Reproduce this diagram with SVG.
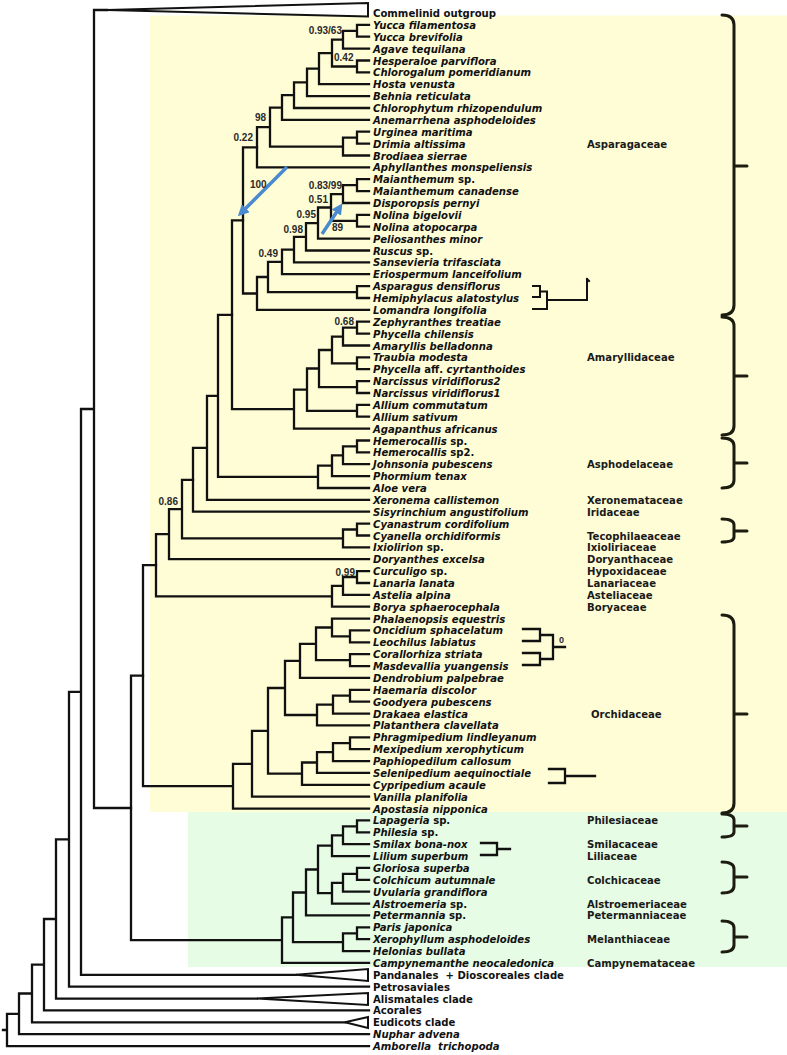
<svg xmlns="http://www.w3.org/2000/svg" width="787" height="1055" viewBox="0 0 787 1055">
<style>
.tx{font-family:"DejaVu Sans","Liberation Sans",sans-serif;font-size:10.1px;font-weight:bold;font-style:italic;fill:#111}
.n{font-style:normal}
.fam{font-family:"DejaVu Sans","Liberation Sans",sans-serif;font-size:10.1px;font-weight:bold;fill:#1a1a1a}
.sup{font-family:"Liberation Sans",Arial,sans-serif;font-size:10px;font-weight:bold;fill:#2a2a2a}
.br{fill:none;stroke:#111;stroke-width:2.3;stroke-linejoin:miter;stroke-linecap:square}
.brace{fill:none;stroke:#1c1c10;stroke-width:3;stroke-linecap:round;stroke-linejoin:round}
.arr{stroke:#4a8ad0;stroke-width:3.5;fill:none}
</style>
<defs>
<marker id="ah" viewBox="0 0 10 10" refX="6" refY="5" markerWidth="3.2" markerHeight="3.2" orient="auto" markerUnits="strokeWidth">
<path d="M0,0L10,5L0,10Z" fill="#4a8ad0"/>
</marker>
</defs>
<rect width="787" height="1055" fill="#ffffff"/>
<rect id="bg-yellow" x="150" y="15.5" width="637" height="796.5" fill="#fffdd6"/>
<rect id="bg-green" x="188" y="812" width="599" height="155" fill="#e6fce4"/>

<g id="connectors" class="br">
<path d="M369,24.9H357V36.7H369M357,30.8H343V48.6H369M369,60.5H357V72.4H369M343,39.7H332V66.5H357M332,53.1H319V84.2H369M319,68.7H307V96.1H369M307,82.4H294V108H369M294,95.2H282V119.9H369M369,131.7H357V143.6H369M357,137.7H343V155.5H369M282,107.6H270V146.6H343M270,127.1H257V167.4H369"/>
<path d="M369,179.2H357V191.1H369M357,185.2H343V203H369M369,214.9H357V226.7H369M343,194.1H331V220.8H357M331,207.5H318V238.6H369M318,223.1H306V250.5H369M306,236.8H294V262.4H369M294,249.6H282V274.2H369M369,286.1H357V298H369M282,261.9H268V292.1H357M268,277H257V309.9H369M257,147.3H243V293.5H257"/>
<path d="M369,321.7H357V333.6H369M357,327.7H343V345.5H369M369,357.3H357V369.2H369M343,336.6H332V363.3H357M369,381.1H357V393H369M332,350H319V387.1H357M369,404.8H357V416.7H369M319,368.5H307V410.8H357M307,389.6H294V428.6H369M243,220.4H232V409.1H294"/>
<path d="M369,440.5H357V452.3H369M357,446.4H343V464.2H369M343,455.3H332V476.1H369M332,465.7H318V488H369M232,314.8H218V476.8H318M218,395.8H207V499.8H369M207,447.8H193V511.7H369"/>
<path d="M369,523.6H357V535.5H369M357,529.5H343V547.3H369M193,479.8H182V538.4H343M182,509.1H169V559.2H369M369,571.1H357V583H369M357,577H343V594.8H369M343,585.9H332V606.7H369M169,534.1H156V596.3H332"/>
<path d="M369,630.4H350V642.3H369M369,618.6H332V636.4H350M369,654.2H350V666.1H369M332,627.5H316V660.1H350M316,643.8H300V677.9H369M369,689.8H350V701.7H369M350,695.7H333V713.6H369M333,704.7H317V725.4H369M300,660.9H285V715H317M369,737.3H350V749.2H369M350,743.2H333V761.1H369M333,752.2H317V772.9H369M317,762.5H302V784.8H369M285,688H268V773.7H302M268,730.8H252V796.7H369M252,763.8H233V808.6H369M156,565.2H143V786.2H233"/>
<path d="M369,820.4H357V832.3H369M357,826.4H343V844.2H369M343,835.3H332V856.1H369M369,867.9H357V879.8H369M357,873.9H343V891.7H369M343,882.8H332V903.6H369M332,845.7H318V893.2H332M318,869.5H306V915.4H369M369,927.3H357V939.2H369M357,933.3H343V951.1H369M306,892.5H293V942.2H343M293,917.4H282V962.9H369M143,675.7H131V940.2H282"/>
<path d="M107,10H94V808H131M94,409H81V974.8H296M81,691.9H69V986.7H369M69,839.3H56V998.6H257M56,919H44V1010.4H369M44,964.7H32V1022.3H345M32,993.5H19V1034.2H369M19,1013.9H7V1046.1H369M3,1030H7"/>
<path d="M107,10L368,3V16.5Z M296,974.8L368,969V981Z M257,998.6L368,993V1005Z M345,1022.3L368,1017V1028Z" stroke-linejoin="miter" stroke-width="2"/>
<path d="M533,286H540V297H533M540,291.5H547V309H533M547,300H587V279M587,279L589,281" stroke-width="2"/>
<path d="M523,629H540V641H523M523,653H540V665H523M540,635H553V659H540M553,647H565" stroke-width="2.3"/>
<path d="M549,769H565V783H549M565,776H595" stroke-width="2.3"/>
<path d="M481,843H497V855H481M497,849H510" stroke-width="2.3"/>
</g>

<g id="arrows">
<line class="arr" x1="287" y1="167" x2="241" y2="213" marker-end="url(#ah)"/>
<line class="arr" x1="322" y1="234" x2="340" y2="207" marker-end="url(#ah)"/>
</g>

<g id="braces" class="brace">
<path d="M722,15Q734,15 734,25V166M734,166H747M734,166V305Q734,315 722,315"/>
<path d="M722,317Q734,317 734,326V376M734,376H747M734,376V426Q734,435 722,435"/>
<path d="M722,438Q734,438 734,446V463M734,463H747M734,463V480Q734,488 722,488"/>
<path d="M722,519Q734,519 734,525V531M734,531H747M734,531V537Q734,542 722,542"/>
<path d="M722,615Q734,615 734,625V714M734,714H747M734,714V803Q734,813 722,813"/>
<path d="M722,814Q734,814 734,820V826M734,826H747M734,826V832Q734,837 722,837"/>
<path d="M722,862Q734,862 734,869V877M734,877H747M734,877V886Q734,893 722,893"/>
<path d="M722,921Q734,921 734,928V937M734,937H747M734,937V945Q734,952 722,952"/>
</g>

<g id="support">
<text class="sup" x="342" y="34" text-anchor="end">0.93/63</text>
<text class="sup" x="334" y="61">0.42</text>
<text class="sup" x="266" y="121" text-anchor="end">98</text>
<text class="sup" x="253" y="141" text-anchor="end">0.22</text>
<text class="sup" x="250" y="188">100</text>
<text class="sup" x="342" y="189" text-anchor="end">0.83/99</text>
<text class="sup" x="328" y="203" text-anchor="end">0.51</text>
<text class="sup" x="316" y="218" text-anchor="end">0.95</text>
<text class="sup" x="332" y="231">89</text>
<text class="sup" x="303" y="233" text-anchor="end">0.98</text>
<text class="sup" x="278" y="257" text-anchor="end">0.49</text>
<text class="sup" x="354" y="325" text-anchor="end">0.68</text>
<text class="sup" x="178" y="505" text-anchor="end">0.86</text>
<text class="sup" x="355" y="576" text-anchor="end">0.99</text>
<text class="sup" x="559" y="643" style="font-size:9px">0</text>
</g>

<g id="taxa">
<g id="t00"><text class="tx n" x="373" y="17">Commelinid outgroup</text></g>
<g id="t01"><text class="tx" x="373" y="28.9">Yucca filamentosa</text></g>
<g id="t02"><text class="tx" x="373" y="40.7">Yucca brevifolia</text></g>
<g id="t03"><text class="tx" x="373" y="52.6">Agave tequilana</text></g>
<g id="t04"><text class="tx" x="373" y="64.5">Hesperaloe parviflora</text></g>
<g id="t05"><text class="tx" x="373" y="76.4">Chlorogalum pomeridianum</text></g>
<g id="t06"><text class="tx" x="373" y="88.2">Hosta venusta</text></g>
<g id="t07"><text class="tx" x="373" y="100.1">Behnia reticulata</text></g>
<g id="t08"><text class="tx" x="373" y="112">Chlorophytum rhizopendulum</text></g>
<g id="t09"><text class="tx" x="373" y="123.9">Anemarrhena asphodeloides</text></g>
<g id="t10"><text class="tx" x="373" y="135.7">Urginea maritima</text></g>
<g id="t11"><text class="tx" x="373" y="147.6">Drimia altissima</text></g>
<g id="t12"><text class="tx" x="373" y="159.5">Brodiaea sierrae</text></g>
<g id="t13"><text class="tx" x="373" y="171.4">Aphyllanthes monspeliensis</text></g>
<g id="t14"><text class="tx" x="373" y="183.2">Maianthemum <tspan class="n">sp.</tspan></text></g>
<g id="t15"><text class="tx" x="373" y="195.1">Maianthemum canadense</text></g>
<g id="t16"><text class="tx" x="373" y="207">Disporopsis pernyi</text></g>
<g id="t17"><text class="tx" x="373" y="218.9">Nolina bigelovii</text></g>
<g id="t18"><text class="tx" x="373" y="230.7">Nolina atopocarpa</text></g>
<g id="t19"><text class="tx" x="373" y="242.6">Peliosanthes minor</text></g>
<g id="t20"><text class="tx" x="373" y="254.5">Ruscus <tspan class="n">sp.</tspan></text></g>
<g id="t21"><text class="tx" x="373" y="266.4">Sansevieria trifasciata</text></g>
<g id="t22"><text class="tx" x="373" y="278.2">Eriospermum lanceifolium</text></g>
<g id="t23"><text class="tx" x="373" y="290.1">Asparagus densiflorus</text></g>
<g id="t24"><text class="tx" x="373" y="302">Hemiphylacus alatostylus</text></g>
<g id="t25"><text class="tx" x="373" y="313.9">Lomandra longifolia</text></g>
<g id="t26"><text class="tx" x="373" y="325.7">Zephyranthes treatiae</text></g>
<g id="t27"><text class="tx" x="373" y="337.6">Phycella chilensis</text></g>
<g id="t28"><text class="tx" x="373" y="349.5">Amaryllis belladonna</text></g>
<g id="t29"><text class="tx" x="373" y="361.3">Traubia modesta</text></g>
<g id="t30"><text class="tx" x="373" y="373.2">Phycella <tspan class="n">aff.</tspan> cyrtanthoides</text></g>
<g id="t31"><text class="tx" x="373" y="385.1">Narcissus viridiflorus2</text></g>
<g id="t32"><text class="tx" x="373" y="397">Narcissus viridiflorus1</text></g>
<g id="t33"><text class="tx" x="373" y="408.8">Allium commutatum</text></g>
<g id="t34"><text class="tx" x="373" y="420.7">Allium sativum</text></g>
<g id="t35"><text class="tx" x="373" y="432.6">Agapanthus africanus</text></g>
<g id="t36"><text class="tx" x="373" y="444.5">Hemerocallis <tspan class="n">sp.</tspan></text></g>
<g id="t37"><text class="tx" x="373" y="456.3">Hemerocallis <tspan class="n">sp2.</tspan></text></g>
<g id="t38"><text class="tx" x="373" y="468.2">Johnsonia pubescens</text></g>
<g id="t39"><text class="tx" x="373" y="480.1">Phormium tenax</text></g>
<g id="t40"><text class="tx" x="373" y="492">Aloe vera</text></g>
<g id="t41"><text class="tx" x="373" y="503.8">Xeronema callistemon</text></g>
<g id="t42"><text class="tx" x="373" y="515.7">Sisyrinchium angustifolium</text></g>
<g id="t43"><text class="tx" x="373" y="527.6">Cyanastrum cordifolium</text></g>
<g id="t44"><text class="tx" x="373" y="539.5">Cyanella orchidiformis</text></g>
<g id="t45"><text class="tx" x="373" y="551.3">Ixiolirion <tspan class="n">sp.</tspan></text></g>
<g id="t46"><text class="tx" x="373" y="563.2">Doryanthes excelsa</text></g>
<g id="t47"><text class="tx" x="373" y="575.1">Curculigo <tspan class="n">sp.</tspan></text></g>
<g id="t48"><text class="tx" x="373" y="587">Lanaria lanata</text></g>
<g id="t49"><text class="tx" x="373" y="598.8">Astelia alpina</text></g>
<g id="t50"><text class="tx" x="373" y="610.7">Borya sphaerocephala</text></g>
<g id="t51"><text class="tx" x="373" y="622.6">Phalaenopsis equestris</text></g>
<g id="t52"><text class="tx" x="373" y="634.4">Oncidium sphacelatum</text></g>
<g id="t53"><text class="tx" x="373" y="646.3">Leochilus labiatus</text></g>
<g id="t54"><text class="tx" x="373" y="658.2">Corallorhiza striata</text></g>
<g id="t55"><text class="tx" x="373" y="670.1">Masdevallia yuangensis</text></g>
<g id="t56"><text class="tx" x="373" y="681.9">Dendrobium palpebrae</text></g>
<g id="t57"><text class="tx" x="373" y="693.8">Haemaria discolor</text></g>
<g id="t58"><text class="tx" x="373" y="705.7">Goodyera pubescens</text></g>
<g id="t59"><text class="tx" x="373" y="717.6">Drakaea elastica</text></g>
<g id="t60"><text class="tx" x="373" y="729.4">Platanthera clavellata</text></g>
<g id="t61"><text class="tx" x="373" y="741.3">Phragmipedium lindleyanum</text></g>
<g id="t62"><text class="tx" x="373" y="753.2">Mexipedium xerophyticum</text></g>
<g id="t63"><text class="tx" x="373" y="765.1">Paphiopedilum callosum</text></g>
<g id="t64"><text class="tx" x="373" y="776.9">Selenipedium aequinoctiale</text></g>
<g id="t65"><text class="tx" x="373" y="788.8">Cypripedium acaule</text></g>
<g id="t66"><text class="tx" x="373" y="800.7">Vanilla planifolia</text></g>
<g id="t67"><text class="tx" x="373" y="812.6">Apostasia nipponica</text></g>
<g id="t68"><text class="tx" x="373" y="824.4">Lapageria <tspan class="n">sp.</tspan></text></g>
<g id="t69"><text class="tx" x="373" y="836.3">Philesia <tspan class="n">sp.</tspan></text></g>
<g id="t70"><text class="tx" x="373" y="848.2">Smilax bona-nox</text></g>
<g id="t71"><text class="tx" x="373" y="860.1">Lilium superbum</text></g>
<g id="t72"><text class="tx" x="373" y="871.9">Gloriosa superba</text></g>
<g id="t73"><text class="tx" x="373" y="883.8">Colchicum autumnale</text></g>
<g id="t74"><text class="tx" x="373" y="895.7">Uvularia grandiflora</text></g>
<g id="t75"><text class="tx" x="373" y="907.6">Alstroemeria <tspan class="n">sp.</tspan></text></g>
<g id="t76"><text class="tx" x="373" y="919.4">Petermannia <tspan class="n">sp.</tspan></text></g>
<g id="t77"><text class="tx" x="373" y="931.3">Paris japonica</text></g>
<g id="t78"><text class="tx" x="373" y="943.2">Xerophyllum asphodeloides</text></g>
<g id="t79"><text class="tx" x="373" y="955.1">Helonias bullata</text></g>
<g id="t80"><text class="tx" x="373" y="966.9">Campynemanthe neocaledonica</text></g>
<g id="t81"><text class="tx n" x="373" y="978.8">Pandanales&#160; + Dioscoreales clade</text></g>
<g id="t82"><text class="tx n" x="373" y="990.7">Petrosaviales</text></g>
<g id="t83"><text class="tx n" x="373" y="1002.6">Alismatales clade</text></g>
<g id="t84"><text class="tx n" x="373" y="1014.4">Acorales</text></g>
<g id="t85"><text class="tx n" x="373" y="1026.3">Eudicots clade</text></g>
<g id="t86"><text class="tx" x="373" y="1038.2">Nuphar advena</text></g>
<g id="t87"><text class="tx" x="373" y="1050.1">Amborella&#160; trichopoda</text></g>
</g>

<g id="families">
<g id="f-asparagaceae"><text class="fam" x="587" y="148">Asparagaceae</text></g>
<g id="f-amaryllidaceae"><text class="fam" x="587" y="361">Amaryllidaceae</text></g>
<g id="f-asphodelaceae"><text class="fam" x="587" y="468">Asphodelaceae</text></g>
<g id="f-xeronemataceae"><text class="fam" x="587" y="503.8">Xeronemataceae</text></g>
<g id="f-iridaceae"><text class="fam" x="587" y="515.7">Iridaceae</text></g>
<g id="f-tecophilaeaceae"><text class="fam" x="587" y="539.5">Tecophilaeaceae</text></g>
<g id="f-ixioliriaceae"><text class="fam" x="587" y="551.3">Ixioliriaceae</text></g>
<g id="f-doryanthaceae"><text class="fam" x="587" y="563.2">Doryanthaceae</text></g>
<g id="f-hypoxidaceae"><text class="fam" x="587" y="575.1">Hypoxidaceae</text></g>
<g id="f-lanariaceae"><text class="fam" x="587" y="587">Lanariaceae</text></g>
<g id="f-asteliaceae"><text class="fam" x="587" y="598.8">Asteliaceae</text></g>
<g id="f-boryaceae"><text class="fam" x="587" y="610.7">Boryaceae</text></g>
<g id="f-orchidaceae"><text class="fam" x="591" y="718">Orchidaceae</text></g>
<g id="f-philesiaceae"><text class="fam" x="587" y="824.4">Philesiaceae</text></g>
<g id="f-smilacaceae"><text class="fam" x="587" y="848.2">Smilacaceae</text></g>
<g id="f-liliaceae"><text class="fam" x="587" y="860.1">Liliaceae</text></g>
<g id="f-colchicaceae"><text class="fam" x="587" y="883.8">Colchicaceae</text></g>
<g id="f-alstroemeriaceae"><text class="fam" x="587" y="907.6">Alstroemeriaceae</text></g>
<g id="f-petermanniaceae"><text class="fam" x="587" y="919.4">Petermanniaceae</text></g>
<g id="f-melanthiaceae"><text class="fam" x="587" y="943.2">Melanthiaceae</text></g>
<g id="f-campynemataceae"><text class="fam" x="587" y="966.9">Campynemataceae</text></g>
</g>
</svg>
